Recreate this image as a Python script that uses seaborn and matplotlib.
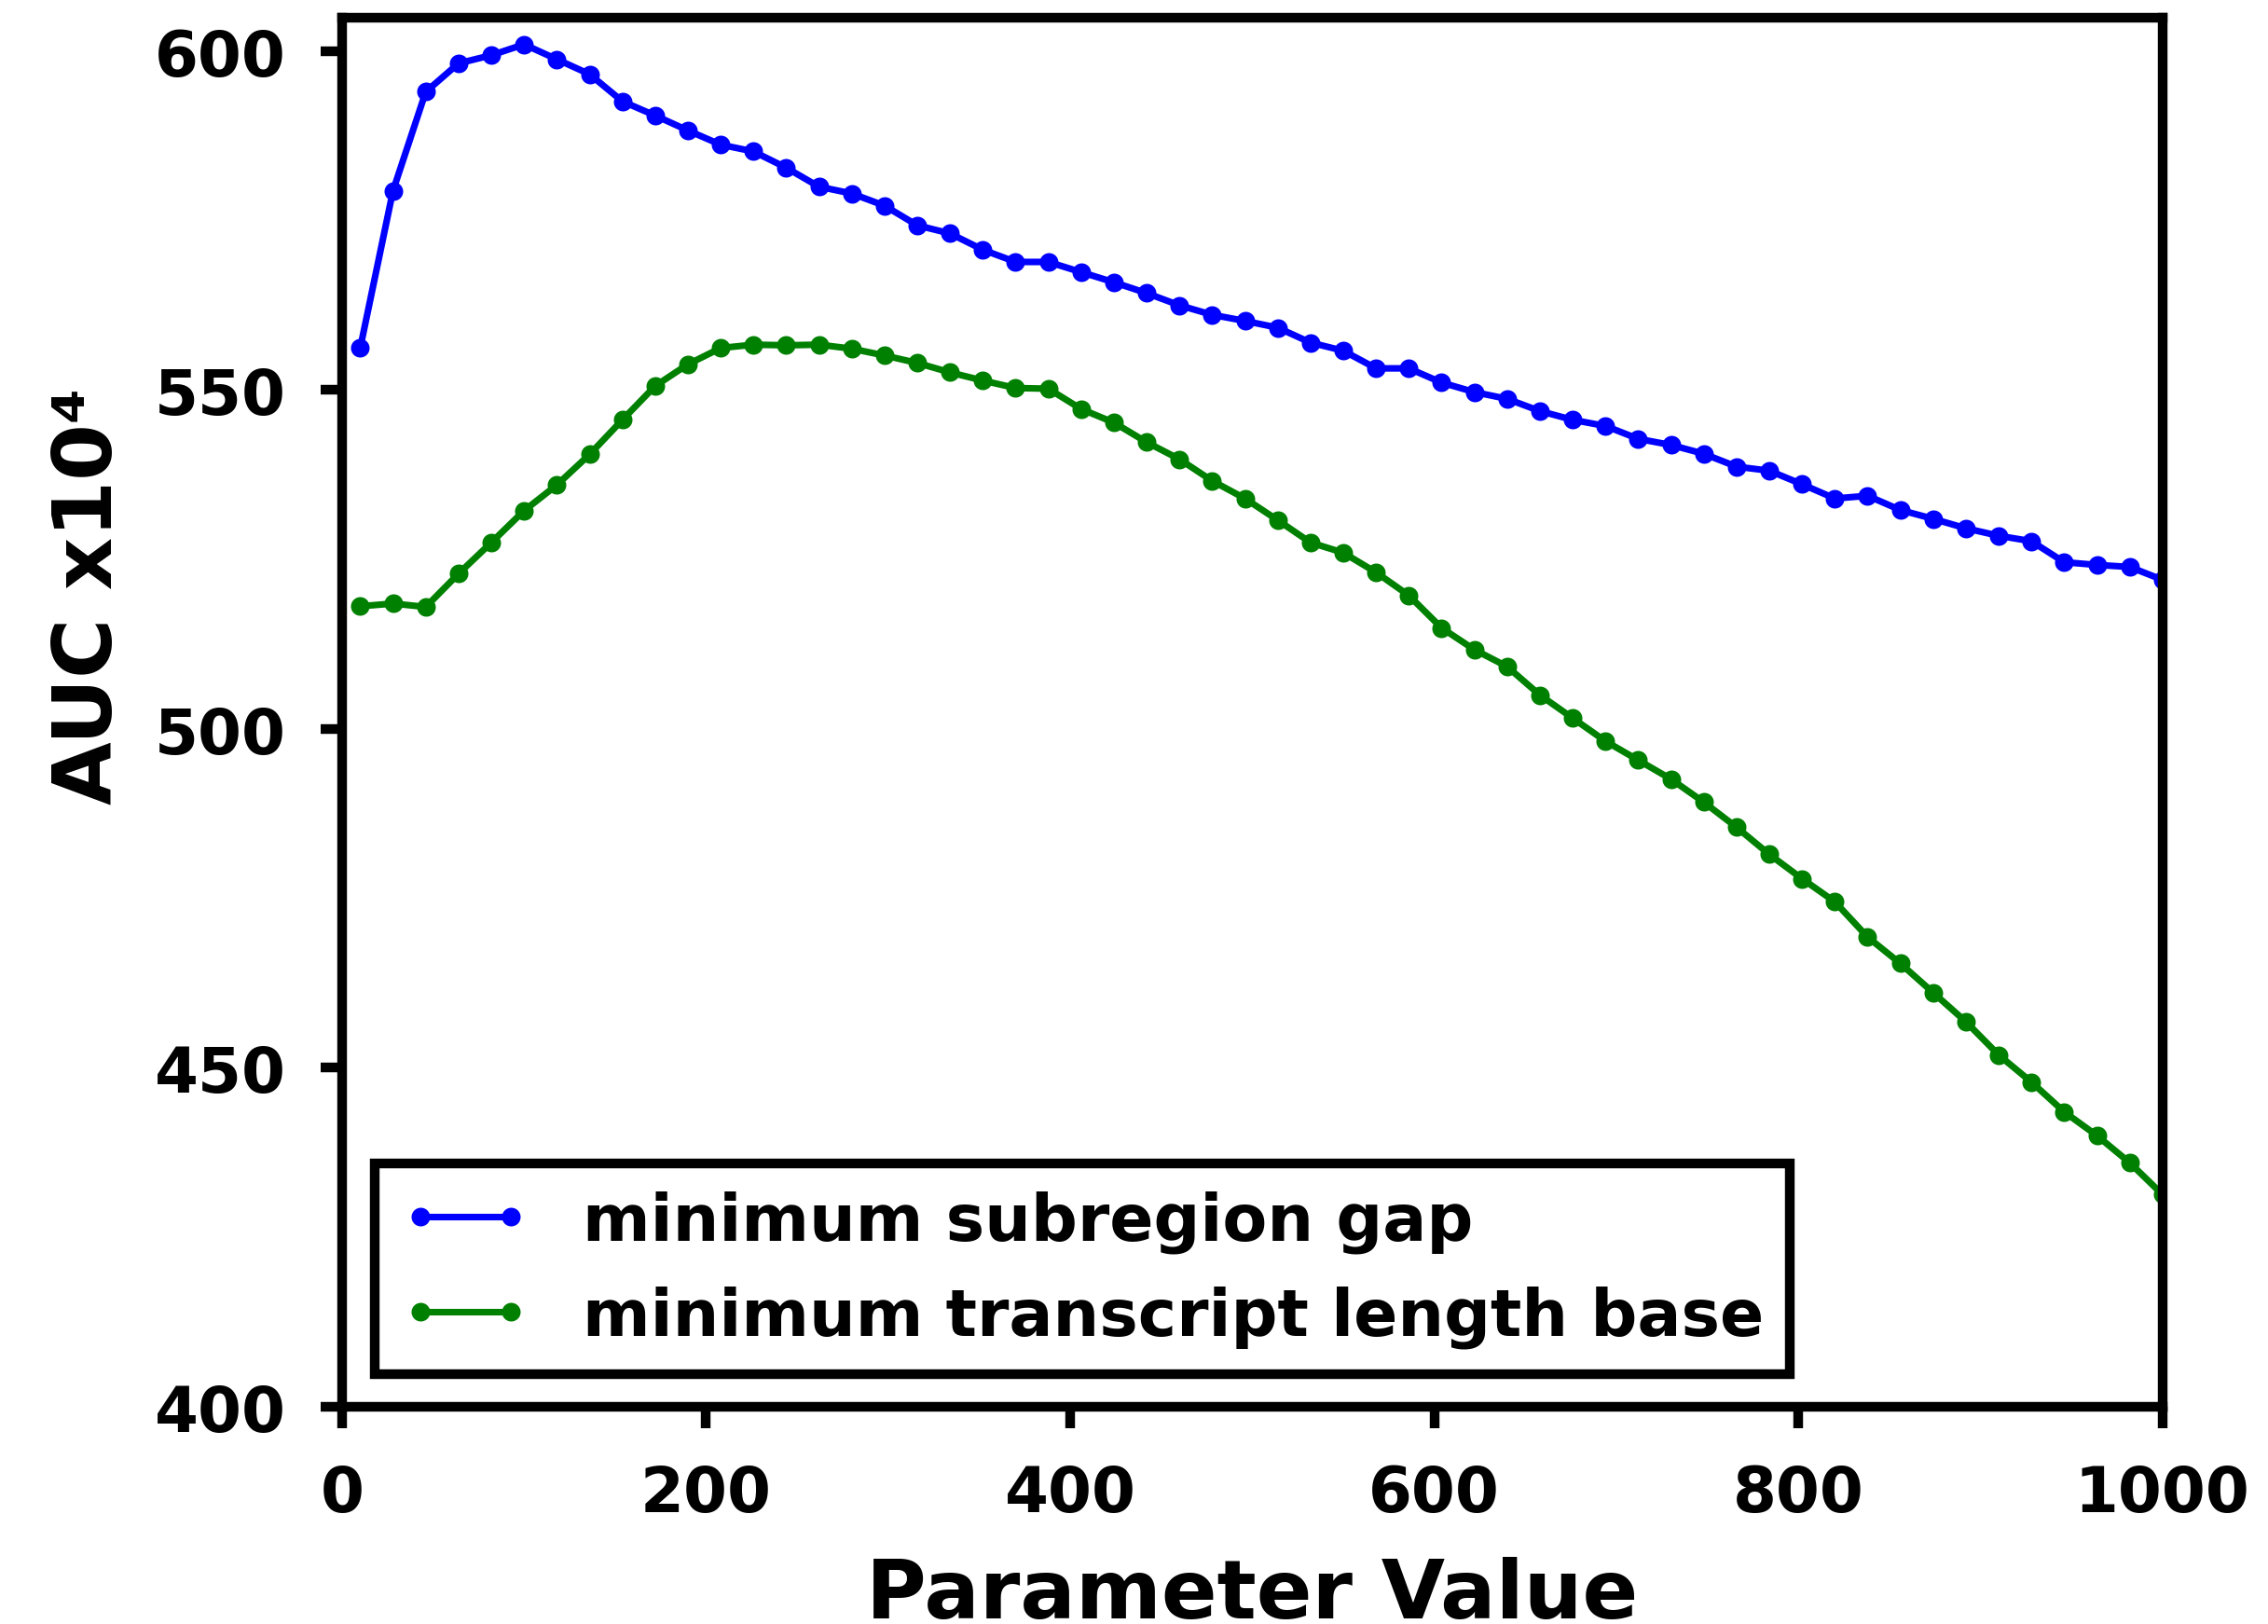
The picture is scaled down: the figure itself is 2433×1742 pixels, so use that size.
import matplotlib
matplotlib.use("Agg")
import matplotlib.pyplot as plt
import seaborn as sns
import pandas as pd

# Parameter grid (shared by both sweeps)
param_values = [10, 28, 46, 64, 82, 100, 118, 136, 154, 172, 190, 208, 226, 244,
                262, 280, 298, 316, 334, 352, 370, 388, 406, 424, 442, 460, 478,
                496, 514, 532, 550, 568, 586, 604, 622, 640, 658, 676, 694, 712,
                730, 748, 766, 784, 802, 820, 838, 856, 874, 892, 910, 928, 946,
                964, 982, 1000]

# AUC (x10^4) for the minimum subregion gap sweep
auc_subregion_gap = [556.2, 579.4, 594.0, 598.2, 599.4, 601.0, 598.8, 596.6, 592.6,
                     590.5, 588.3, 586.2, 585.2, 582.8, 580.0, 579.0, 577.2, 574.3,
                     573.1, 570.7, 568.9, 568.9, 567.4, 565.9, 564.3, 562.5, 561.1,
                     560.2, 559.2, 557.0, 555.8, 553.2, 553.2, 551.1, 549.7, 548.7,
                     546.9, 545.6, 544.7, 542.8, 541.9, 540.6, 538.7, 538.1, 536.1,
                     534.0, 534.4, 532.3, 531.0, 529.6, 528.5, 527.7, 524.6, 524.2,
                     523.9, 522.0]

# AUC (x10^4) for the minimum transcript length base sweep
auc_transcript_length = [518.1, 518.5, 518.0, 522.9, 527.5, 532.2, 536.0, 540.5, 545.6,
                         550.6, 553.8, 556.2, 556.7, 556.6, 556.7, 556.1, 555.1, 554.0,
                         552.6, 551.4, 550.3, 550.2, 547.2, 545.2, 542.3, 539.8, 536.6,
                         534.0, 530.8, 527.5, 526.0, 523.1, 519.7, 514.9, 511.7, 509.2,
                         505.0, 501.6, 498.2, 495.4, 492.6, 489.2, 485.5, 481.5, 477.9,
                         474.5, 469.3, 465.4, 461.1, 456.8, 451.9, 447.9, 443.5, 440.0,
                         436.0, 431.3]

series_labels = ["minimum subregion gap", "minimum transcript length base"]
series_colors = ["blue", "green"]

x_ticks = [0, 200, 400, 600, 800, 1000]
y_ticks = [400, 450, 500, 550, 600]

sns.set_style("ticks")
plt.rcParams["font.family"] = ["DejaVu Sans"]
plt.rcParams["font.weight"] = "bold"
plt.rcParams["text.color"] = "black"
plt.rcParams["axes.labelcolor"] = "black"
plt.rcParams["xtick.color"] = "black"
plt.rcParams["ytick.color"] = "black"

df = pd.DataFrame({
    "Parameter Value": param_values * 2,
    "AUC": auc_subregion_gap + auc_transcript_length,
    "series": [series_labels[0]] * len(param_values) + [series_labels[1]] * len(param_values),
})

fig = plt.figure(figsize=(2433 / 300, 1743 / 300), dpi=300)
ax = fig.add_axes([0.1508, 0.1337, 0.9535 - 0.1508, 0.9888 - 0.1337])

sns.lineplot(data=df, x="Parameter Value", y="AUC", hue="series",
             palette=dict(zip(series_labels, series_colors)),
             marker="o", markersize=4.8, markeredgewidth=0, linewidth=1.7,
             ax=ax)

ax.set_xlim(0, 1000)
ax.set_ylim(400, 605)
ax.set_xticks(x_ticks)
ax.set_yticks(y_ticks)

for side in ["left", "right", "top", "bottom"]:
    ax.spines[side].set_visible(True)
    ax.spines[side].set_linewidth(2.5)
    ax.spines[side].set_color("black")

ax.tick_params(axis="both", direction="out", length=5.5, width=2.5,
               labelsize=16.2, pad=9, colors="black")
for lab in ax.get_xticklabels() + ax.get_yticklabels():
    lab.set_fontweight("bold")

ax.set_xlabel("Parameter Value", fontsize=21.2, fontweight="bold",
              color="black", labelpad=8)
ax.set_ylabel("AUC x10\u2074", fontsize=21, fontweight="bold", color="black")
ax.yaxis.set_label_coords(-0.117, 0.584)

leg = ax.legend(loc="lower left", numpoints=2, frameon=True,
                fancybox=False, framealpha=1, edgecolor="black",
                prop={"weight": "bold", "size": 16.75})
leg.get_frame().set_linewidth(2.5)
for t in leg.get_texts():
    t.set_color("black")

fig.savefig("out.png", dpi=300)
